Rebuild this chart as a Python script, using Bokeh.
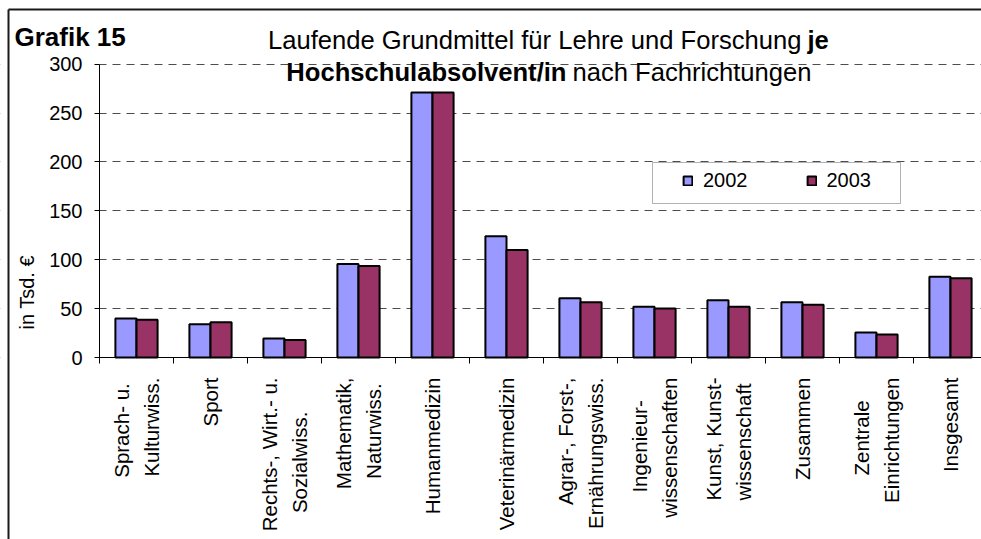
import numpy as np
from bokeh.plotting import figure
from bokeh.models import (FixedTicker, Range1d, Label, Legend, LegendItem,
                          BoxAnnotation, ColumnDataSource)
from bokeh.transform import dodge
from bokeh.embed import file_html
from bokeh.resources import INLINE

# ---------------- data ----------------
categories = ["Sprach- u.\nKulturwiss.", "Sport", "Rechts-, Wirt.- u.\nSozialwiss.",
              "Mathematik,\nNaturwiss.", "Humanmedizin", "Veterinärmedizin",
              "Agrar-, Forst-,\nErnährungswiss.", "Ingenieur-\nwissenschaften",
              "Kunst, Kunst-\nwissenschaft", "Zusammen", "Zentrale\nEinrichtungen",
              "Insgesamt"]
v2002 = [40, 34, 19.5, 95.5, 271, 124, 60.5, 52, 58.5, 56.5, 25.5, 82.5]
v2003 = [38.5, 36, 18, 93.5, 271, 110, 56.5, 50, 52, 54, 23.5, 81]
years = ["2002", "2003"]
y_ticks = [0, 50, 100, 150, 200, 250, 300]

FONT = "Liberation Sans"
C2002 = "#9999FF"
C2003 = "#993366"

# ---------------- geometry (page pixels) ----------------
W, H = 981, 539            # canvas size
CL, CT = 0, 0              # canvas left/top on page
AX_X, AX_Y = 99, 357       # page position of the axes origin
PX = 74.0                  # pixels per category
PY = 0.978                 # pixels per value unit

def X(xp):
    return (xp - AX_X) / PX

def Y(yp):
    return (AX_Y - yp) / PY

def centre_lines(label):
    # tick labels are right-aligned per line; pad the shorter line with
    # no-break spaces so that the lines look centred on each other
    lines = label.split("\n")
    if len(lines) < 2:
        return label
    longest = max(len(s) for s in lines)
    out = []
    for s in lines:
        pad = int(round((longest - len(s)) * 0.9))
        out.append(s + "\u00a0" * pad)
    return "\n".join(out)

n = len(categories)
centers = [i + 0.5 for i in range(n)]
bounds = [i for i in range(n + 1)]
src = ColumnDataSource(dict(x=centers, a=v2002, b=v2003))

p = figure(width=W, height=H,
           x_range=Range1d(X(CL), X(CL + W)), y_range=Range1d(Y(CT + H), Y(CT)),
           output_backend="svg", toolbar_location=None,
           min_border_left=0, min_border_top=0, min_border_bottom=0, min_border_right=0)
p.outline_line_color = None
p.background_fill_color = "white"
p.border_fill_color = "white"

# gridlines
p.xgrid.visible = False
p.ygrid.ticker = FixedTicker(ticks=y_ticks)
p.ygrid.grid_line_color = "#4d4d4d"
p.ygrid.grid_line_dash = "8 6"
p.ygrid.grid_line_width = 1
# keep the grid to the right of the value axis
p.add_layout(BoxAnnotation(right=0, fill_color="white", fill_alpha=1.0,
                           line_color=None, level="underlay"))

# outer chart frame (only its top and left edges are inside the picture)
p.segment(x0=[X(8), X(8)], y0=[Y(9), Y(9)], x1=[X(W + 20), X(8)], y1=[Y(9), Y(H + 20)],
          line_color="#1a1a1a", line_width=2)

bw = 0.285
r1 = p.vbar(x=dodge("x", -bw / 2), top="a", width=bw, source=src,
            fill_color=C2002, line_color="black", line_width=2)
r2 = p.vbar(x=dodge("x", bw / 2), top="b", width=bw, source=src,
            fill_color=C2003, line_color="black", line_width=2)

# x axis
xa = p.xaxis[0]
xa.fixed_location = 0
xa.bounds = (0, n)
xa.ticker = FixedTicker(ticks=centers, minor_ticks=bounds)
xa.major_label_overrides = {c: centre_lines(lab) for c, lab in zip(centers, categories)}
xa.major_label_orientation = np.pi / 2
xa.major_tick_in = 0
xa.major_tick_out = 0
xa.minor_tick_in = 0
xa.minor_tick_out = 6
xa.minor_tick_line_color = "black"
xa.axis_line_color = "black"
xa.major_label_standoff = 14
xa.major_label_text_font = FONT
xa.major_label_text_font_size = "20.5px"
xa.major_label_text_color = "black"
xa.major_label_text_line_height = 1.3

# y axis
ya = p.yaxis[0]
ya.fixed_location = 0
ya.bounds = (0, 300)
ya.ticker = FixedTicker(ticks=y_ticks, minor_ticks=[])
ya.major_tick_in = 0
ya.major_tick_out = 5
ya.major_tick_line_color = "black"
ya.axis_line_color = "black"
ya.major_label_standoff = 12
ya.major_label_text_font = FONT
ya.major_label_text_font_size = "20px"
ya.major_label_text_color = "black"

# legend box
p.add_layout(BoxAnnotation(left=X(652), right=X(900), bottom=Y(203), top=Y(162),
                           fill_color="white", fill_alpha=1.0,
                           line_color="black", line_width=1, level="annotation"))
legend = Legend(items=[LegendItem(label=years[0], renderers=[r1]),
                       LegendItem(label=years[1], renderers=[r2])],
                orientation="horizontal", location=(682 - CL, CT + H - 192),
                padding=0, margin=0, spacing=58, label_standoff=10,
                glyph_width=11, glyph_height=11, label_height=20,
                border_line_color=None, background_fill_alpha=0,
                label_text_font=FONT, label_text_font_size="20px",
                label_text_color="black")
p.add_layout(legend)

# texts
def lab(xp, yp, text, bold=False, size="25.6px", align="left", angle=0, baseline="alphabetic"):
    p.add_layout(Label(x=X(xp), y=Y(yp), text=text,
                       text_font=FONT, text_font_size=size,
                       text_font_style="bold" if bold else "normal",
                       text_align=align, text_baseline=baseline, angle=angle,
                       text_color="black"))

lab(14, 36, "Grafik 15", bold=True, size="26px")
lab(801, 39, "Laufende Grundmittel für Lehre und Forschung", align="right")
lab(807, 39, "je", bold=True)
lab(566, 71, "Hochschulabsolvent/in", bold=True, align="right")
lab(572, 71, "nach Fachrichtungen")
lab(26, 289, "in Tsd.  €", size="20px", align="center", angle=np.pi / 2, baseline="middle")

open("out.html", "w").write(file_html(p, INLINE))
